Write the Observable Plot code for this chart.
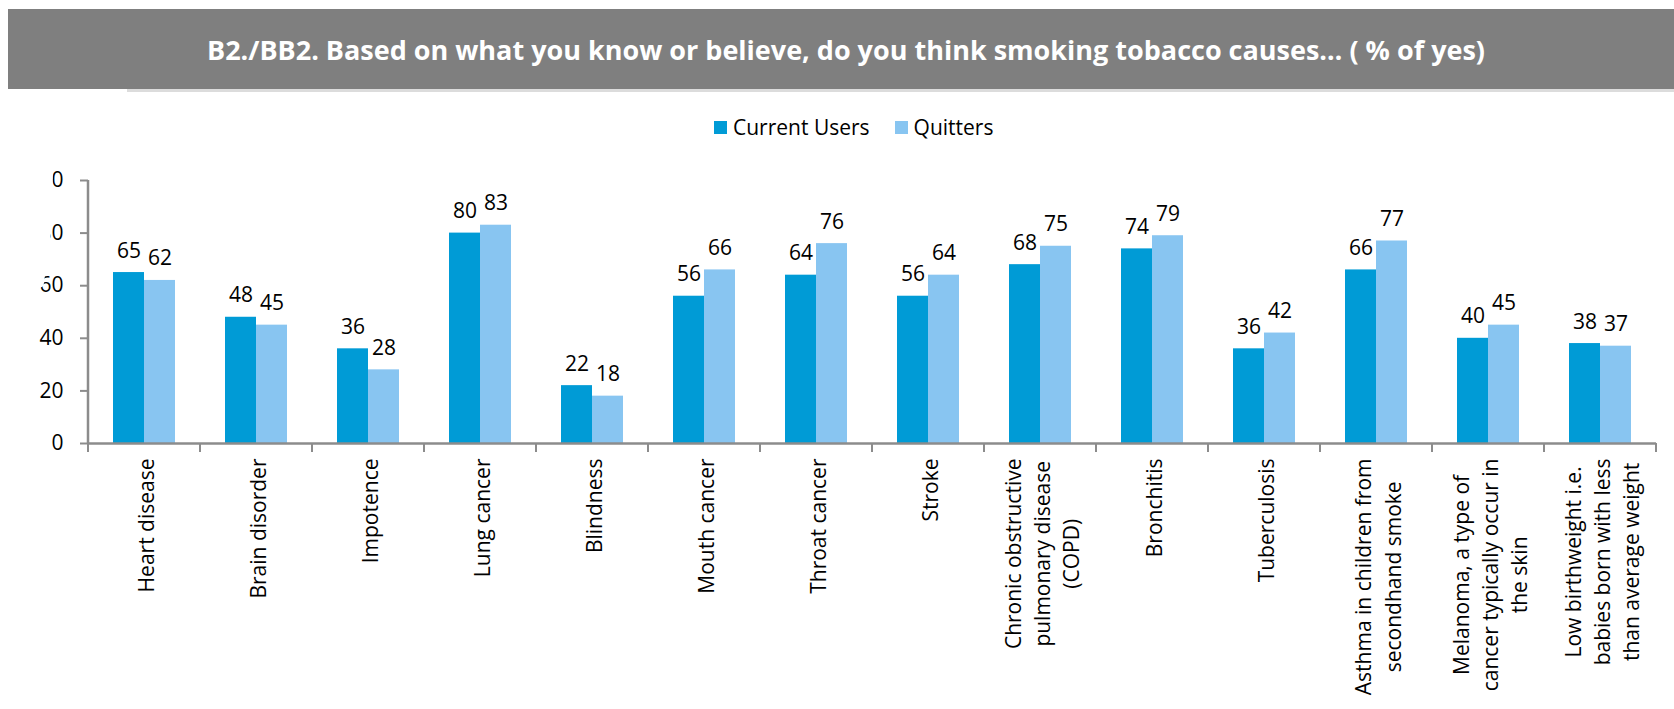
<!DOCTYPE html>
<html>
<head>
<meta charset="utf-8">
<script src="https://cdn.jsdelivr.net/npm/d3@7"></script>
<script src="https://cdn.jsdelivr.net/npm/@observablehq/plot@0.6"></script>
<style>
  html, body { margin: 0; padding: 0; background: #fff; }
  body { width: 1674px; height: 709px; position: relative; overflow: hidden; font-family: "Open Sans", sans-serif; }
  #title { position: absolute; left: 8px; top: 9px; width: 1666px; height: 80px; background: #7f7f7f; color: #fff;
           font-weight: 700; font-size: 27px; display: flex; align-items: center; justify-content: center; padding-left: 10px; box-sizing: border-box; }
  #shadow { position: absolute; left: 127px; top: 89px; width: 1547px; height: 3px; background: #dcdcdc; }
  #legend { position: absolute; left: 714px; top: 112px; height: 30px; display: flex; align-items: center; font-size: 21px; color: #000; }
  #legend .item { display: flex; align-items: center; margin-right: 25px; }
  #legend .sw { width: 13px; height: 13px; margin-right: 6px; }
  #chart { position: absolute; left: 0; top: 140px; }
</style>
</head>
<body>
<div id="title"></div>
<div id="shadow"></div>
<div id="legend"></div>
<div id="chart"></div>
<script>
const titleText = "B2./BB2. Based on what you know or believe, do you think smoking tobacco causes… ( % of yes)";
const categories = [
  "Heart disease",
  "Brain disorder",
  "Impotence",
  "Lung cancer",
  "Blindness",
  "Mouth cancer",
  "Throat cancer",
  "Stroke",
  "Chronic obstructive\npulmonary disease\n(COPD)",
  "Bronchitis",
  "Tuberculosis",
  "Asthma in children from\nsecondhand smoke",
  "Melanoma, a type of\ncancer typically occur in\nthe skin",
  "Low birthweight i.e.\nbabies born with less\nthan average weight"
];
const currentUsers = [65, 48, 36, 80, 22, 56, 64, 56, 68, 74, 36, 66, 40, 38];
const quitters     = [62, 45, 28, 83, 18, 66, 76, 64, 75, 79, 42, 77, 45, 37];
const seriesNames = ["Current Users", "Quitters"];
const seriesColors = ["#009bd6", "#88c5f1"];
const yTicks = [0, 20, 40, 60, 80, 100];

const data = categories.flatMap((c, i) => [
  {category: c, series: seriesNames[0], value: currentUsers[i]},
  {category: c, series: seriesNames[1], value: quitters[i]}
]);

document.getElementById("title").textContent = titleText;
const legend = document.getElementById("legend");
seriesNames.forEach((s, i) => {
  const it = document.createElement("div"); it.className = "item";
  const sw = document.createElement("div"); sw.className = "sw"; sw.style.background = seriesColors[i];
  const tx = document.createElement("span"); tx.textContent = s;
  it.appendChild(sw); it.appendChild(tx); legend.appendChild(it);
});

const axisGray = "#8c8c8c";
const plot = Plot.plot({
  width: 1674,
  height: 569,
  marginLeft: 85,
  marginRight: 16,
  marginTop: 40,
  marginBottom: 266,
  style: {fontFamily: "Open Sans, sans-serif", fontSize: "21px", color: "#000", background: "transparent"},
  fx: {domain: categories, padding: 0, label: null},
  x: {domain: seriesNames, paddingInner: 0, paddingOuter: 0.756, axis: null},
  y: {domain: [0, 100], label: null},
  color: {domain: seriesNames, range: seriesColors},
  marks: [
    Plot.barY(data, {fx: "category", x: "series", y: "value", fill: "series"}),
    Plot.text(data, {fx: "category", x: "series", y: "value", text: d => String(d.value), lineAnchor: "bottom", dy: -15, fontSize: 21, fill: "#000"}),
    Plot.ruleY([0], {stroke: axisGray, strokeWidth: 2.5}),
    Plot.axisY({ticks: yTicks, tickSize: 8, tickPadding: 17, stroke: axisGray, strokeWidth: 2, fontSize: 21, label: null, tickFormat: d => String(d)}),
    Plot.axisFx({anchor: "bottom", tickRotate: -90, tickSize: 0, tickPadding: 15, fontSize: 21, lineHeight: 1.4, label: null})
  ]
});
document.getElementById("chart").appendChild(plot);

// Axis line, category boundary ticks, computed from Plot's own scales
const fx = plot.scale("fx"), y = plot.scale("y");
const y0 = y.apply(0), yTop = y.apply(100);
const starts = categories.map(c => fx.apply(c));
const bounds = starts.concat([starts[starts.length - 1] + fx.bandwidth]);
const svg = d3.select(plot);
const g = svg.append("g").attr("stroke", axisGray).attr("fill", "none");
g.append("line").attr("x1", bounds[0]).attr("x2", bounds[0]).attr("y1", yTop).attr("y2", y0).attr("stroke-width", 2.5);
bounds.forEach(b => g.append("line").attr("x1", b).attr("x2", b).attr("y1", y0).attr("y2", y0 + 9).attr("stroke-width", 2));

// Center multi-line category labels as a block hanging below the axis
svg.selectAll('g[aria-label="fx-axis tick label"] text').each(function() {
  const t = d3.select(this);
  const spans = this.querySelectorAll("tspan");
  let w = 0;
  if (spans.length) spans.forEach(s => { w = Math.max(w, s.getComputedTextLength()); });
  else w = this.getComputedTextLength();
  t.attr("text-anchor", "middle");
  const tr = t.attr("transform") || "";
  t.attr("transform", tr + ` translate(${-w / 2},0)`);
});

// Reproduce the clipped y tick labels of the original (clip applied on an untransformed wrapper)
const defs = svg.append("defs");
defs.append("clipPath").attr("id", "yclip").attr("clipPathUnits", "userSpaceOnUse").append("polygon")
  .attr("points", "53,0 53,30 51,92 43.5,146 0,170 0,569 1674,569 1674,0");
svg.selectAll('g[aria-label="y-axis tick label"]').each(function() {
  const parent = this.parentNode;
  const wrap = document.createElementNS("http://www.w3.org/2000/svg", "g");
  parent.insertBefore(wrap, this);
  wrap.appendChild(this);
  const svgCtm = plot.getScreenCTM ? plot.getScreenCTM() : null;
  let ox = 0, oy = 0;
  const pm = parent.getScreenCTM ? parent.getScreenCTM() : null;
  if (pm && svgCtm) { ox = pm.e - svgCtm.e; oy = pm.f - svgCtm.f; }
  wrap.setAttribute("clip-path", "url(#yclip)");
  if (ox || oy) {
    d3.select("#yclip polygon").attr("transform", `translate(${-ox},${-oy})`);
  }
});
</script>
</body>
</html>
